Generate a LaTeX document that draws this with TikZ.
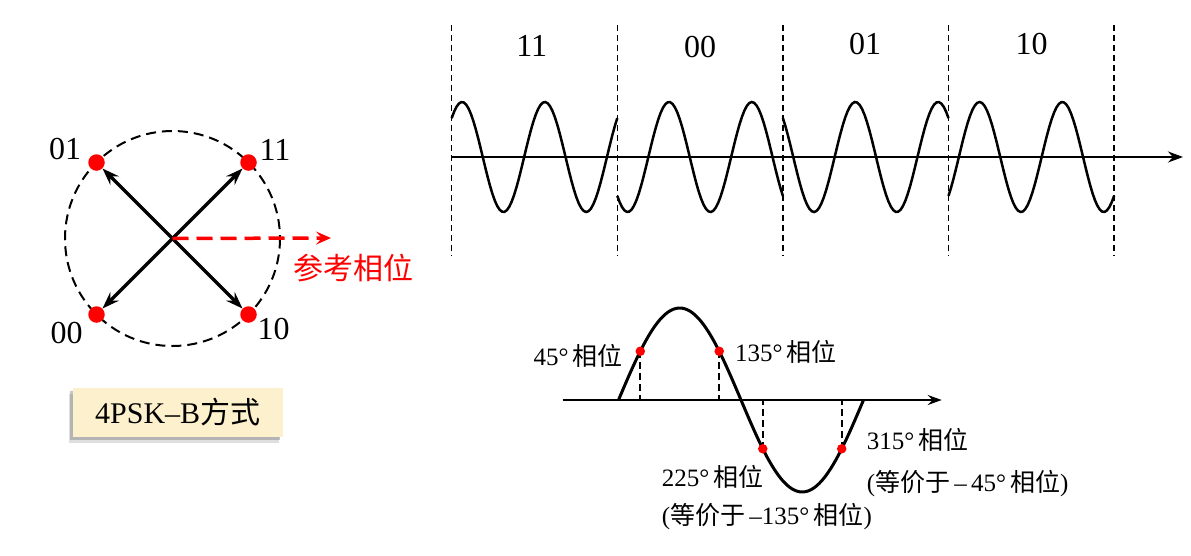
\documentclass[tikz,border=0pt]{standalone}
\usepackage{fontspec}
\setmainfont{Liberation Serif}
\newfontfamily\cjk{Noto Sans CJK SC}
\newcommand{\zh}[1]{{\cjk #1}}
\usepackage{tikz}
\usetikzlibrary{arrows.meta,shadows,positioning}
\definecolor{boxfill}{RGB}{253,240,205}

\begin{document}
\begin{tikzpicture}[x=1pt,y=-1pt,
  dot/.style={circle,fill=red,inner sep=0pt,minimum size=16.5pt},
  pdot/.style={circle,fill=red,inner sep=0pt,minimum size=9.5pt},
  vec/.style={line width=3.2pt,-{Stealth[length=17pt,width=12pt,inset=6pt]}},
  refvec/.style={red,line width=3.5pt,dash pattern=on 16pt off 8pt,-{Stealth[length=15pt,width=13pt,inset=6pt]}},
  ring/.style={line width=2pt,dash pattern=on 10pt off 6pt},
  bits/.style={inner sep=0pt,font=\fontsize{32}{38}\selectfont},
  slotlbl/.style={inner sep=0pt,font=\fontsize{32}{38}\selectfont},
  wave/.style={line width=2.5pt},
  timeaxis/.style={line width=2.5pt,-{Stealth[length=15pt,width=11pt,inset=5pt]}},
  slot/.style={line width=1.5pt,dash pattern=on 6pt off 4pt},
  dropline/.style={line width=2pt,dash pattern=on 7pt off 4pt},
  phaselbl/.style={inner sep=0pt,font=\fontsize{25}{30}\selectfont},
  modebox/.style={fill=boxfill,minimum width=210pt,minimum height=49pt,inner sep=0pt,
    font=\fontsize{30}{36}\selectfont,
    drop shadow={shadow xshift=-4pt,shadow yshift=-6pt,fill=gray,opacity=0.25},
    drop shadow={shadow xshift=-2.5pt,shadow yshift=-3.5pt,fill=gray,opacity=0.45}}]
\useasboundingbox (0,0) rectangle (1191,555);

% constellation
\coordinate (c) at (172.5,238.5);
\draw[ring] (c) circle[radius=107.5];
\node[dot] (d01) at (96.5,162.5) {};
\node[dot] (d11) at (248.5,162.5) {};
\node[dot] (d00) at (96.5,314.5) {};
\node[dot] (d10) at (248.5,314.5) {};
\foreach \p in {d01,d11,d00,d10} \draw[vec] (c) -- (\p);
\node[bits] (l01) at (65,149.5) {01};
\node[bits] (l11) at (275,149.5) {11};
\node[bits] (l00) at (66.5,333.5) {00};
\node[bits] (l10) at (273.5,329.5) {10};

\coordinate (ref) at (331,238);
\draw[refvec] (c) -- (ref);
\node[red,inner sep=0pt,font=\fontsize{30}{36}\selectfont] (reflbl) at (353,268) {\zh{参考相位}};

\node[modebox] (mode) at (177.7,412.2) {4PSK–B\zh{方式}};

% modulated carrier
\foreach \k in {0,...,4} \draw[slot] ({451.7+165.6*\k},25) -- ({451.7+165.6*\k},256);
\foreach \ph [count=\i from 0] in {45,225,135,315}
  \draw[wave] plot[domain=0:165.6,samples=70] ({451.7+165.6*\i+\x},{157-55*sin(\x/165.6*720+\ph)});
\coordinate (t0) at (451.7,157);
\coordinate (t1) at (1183,157);
\draw[timeaxis] (t0) -- (t1);
\node[slotlbl] (s11) at (531.7,46) {11};
\node[slotlbl] (s00) at (700,47.3) {00};
\node[slotlbl] (s01) at (865,44) {01};
\node[slotlbl] (s10) at (1031.7,44) {10};

% one period with the four phases
\coordinate (a0) at (562.7,400);
\coordinate (a1) at (941.7,400);
\draw[timeaxis,-{Stealth[length=14pt,width=10pt,inset=5pt]}] (a0) -- (a1);
\draw[wave,line width=3pt] plot[domain=0:360,samples=90] ({618.5+\x/360*245},{400-92*sin(\x)});
\foreach \ang/\nm in {32/p45,148/p135,212/p225,328/p315} {
  \coordinate (\nm) at ({618.5+\ang/360*245},{400-92*sin(\ang)});
  \draw[dropline] (\nm) -- (\nm |- a0);
  \node[pdot] (dot\nm) at (\nm) {};
}
\node[phaselbl,anchor=east] (l45) at (623,356) {45°\,\zh{相位}};
\node[phaselbl,anchor=west] (l135) at (735,352) {135°\,\zh{相位}};
\node[phaselbl,anchor=west] (l315) at (866.7,440) {315°\,\zh{相位}};
\node[phaselbl,anchor=west] (l315b) at (866.7,483.3) {(\zh{等价于}\,–\,45°\,\zh{相位})};
\node[phaselbl,anchor=west] (l225) at (661.7,476.7) {225°\,\zh{相位}};
\node[phaselbl,anchor=west] (l225b) at (661.7,516.7) {(\zh{等价于}\,–135°\,\zh{相位})};
\end{tikzpicture}
\end{document}
